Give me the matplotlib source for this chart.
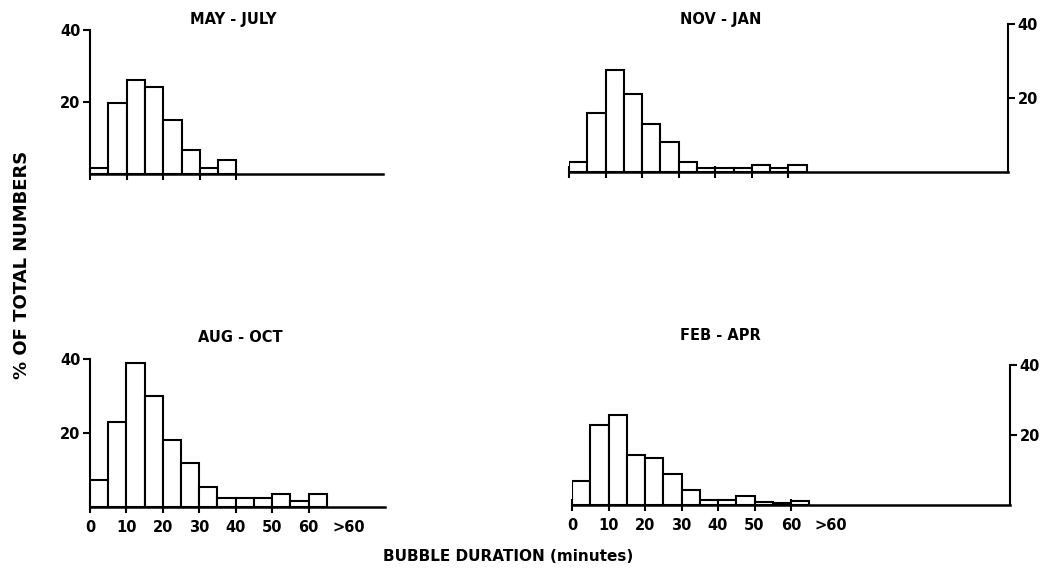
import numpy as np
import matplotlib
matplotlib.use("Agg")
from matplotlib import pyplot as plt

plt.rcParams['font.family'] = ['DejaVu Sans']
plt.rcParams['font.weight'] = 'bold'

# % of total numbers per 5-minute bubble-duration bin (left edges 0, 5, 10, ...)
bin_width = 5
may_jul = [1.7, 19.7, 26, 24.2, 15, 6.8, 1.8, 3.8]
nov_jan = [2.7, 16, 27.5, 21, 13, 8, 2.8, 1, 1, 1, 2, 1, 2]
aug_oct = [7.2, 23, 39, 30, 18, 12, 5.3, 2.5, 2.5, 2.5, 3.5, 1.5, 3.5]
feb_apr = [7, 23, 25.7, 14.2, 13.3, 8.8, 4.3, 1.5, 1.5, 2.5, 1, 0.6, 1.2]

titles = ["MAY - JULY", "NOV - JAN", "AUG - OCT", "FEB - APR"]
x_ticks = [0, 10, 20, 30, 40, 50, 60]
x_labels = ["0", "10", "20", "30", "40", "50", "60"]
over_label = ">60"

fig = plt.figure(figsize=(10.49, 5.70), dpi=100)

# axes rectangles in figure fraction
ax_tl = fig.add_axes([0.0858, 0.6947, 0.2793, 0.2527])
ax_tr = fig.add_axes([0.5424, 0.6982, 0.4185, 0.2597])
ax_bl = fig.add_axes([0.0858, 0.1105, 0.2812, 0.2597])
ax_br = fig.add_axes([0.5453, 0.1140, 0.4175, 0.2456])


def draw_panel(ax, values, xmax, ticks, right=False, labels=False):
    left = np.arange(len(values)) * bin_width
    ax.bar(left, values, width=bin_width, align='edge', color='white',
           edgecolor='black', linewidth=1.5, zorder=3)
    ax.set_xlim(0, xmax)
    ax.set_ylim(0, 40)
    for s in ['top', 'left', 'right']:
        ax.spines[s].set_visible(False)
    side = 'right' if right else 'left'
    ax.spines[side].set_visible(True)
    ax.spines[side].set_linewidth(1.5)
    ax.spines['bottom'].set_linewidth(1.8)
    if right:
        ax.yaxis.tick_right()
    ax.set_yticks([20, 40])
    ax.set_yticklabels(["20", "40"])
    ax.tick_params(axis='y', length=5, width=1.5, labelsize=10.5, pad=2)
    ax.tick_params(axis='x', direction='inout', length=9, width=1.5,
                   labelsize=10.5, pad=5)
    if labels:
        ax.set_xticks(ticks + [71])
        ax.set_xticklabels(x_labels[:len(ticks)] + [over_label])
        ax.xaxis.get_major_ticks()[-1].tick1line.set_visible(False)
    else:
        ax.set_xticks(ticks)
        ax.set_xticklabels([])


draw_panel(ax_tl, may_jul, 80, x_ticks[:5])
draw_panel(ax_tr, nov_jan, 120, x_ticks, right=True)
draw_panel(ax_bl, aug_oct, 81, x_ticks, labels=True)
draw_panel(ax_br, feb_apr, 120, x_ticks, right=True, labels=True)

fig.text(0.222, 0.965, titles[0], ha='center', va='center', fontsize=10.5)
fig.text(0.687, 0.965, titles[1], ha='center', va='center', fontsize=10.5)
fig.text(0.229, 0.408, titles[2], ha='center', va='center', fontsize=10.5)
fig.text(0.687, 0.412, titles[3], ha='center', va='center', fontsize=10.5)

fig.text(0.021, 0.535, "% OF TOTAL NUMBERS", rotation=90, ha='center',
         va='center', fontsize=13)
fig.text(0.484, 0.023, "BUBBLE DURATION (minutes)", ha='center',
         va='center', fontsize=11)

fig.savefig("out.png", dpi=100)
